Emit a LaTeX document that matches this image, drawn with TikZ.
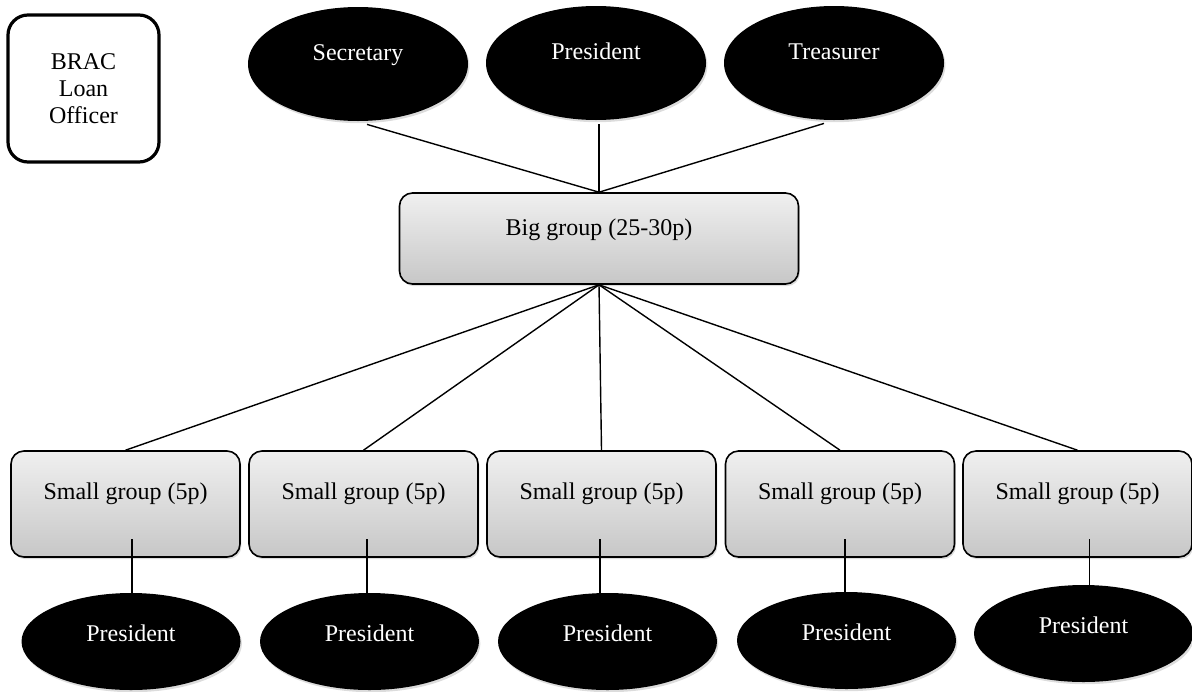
\documentclass[tikz,border=0pt]{standalone}
\usepackage{fontspec}
\setmainfont{Liberation Serif}
\usetikzlibrary{shapes.geometric,shadows,calc}
\begin{document}
\begin{tikzpicture}[x=0.5pt,y=-0.5pt,
  every node/.style={font=\fontsize{12}{13.5}\selectfont},
  softshadow/.style={drop shadow={opacity=0.28,shadow xshift=0.7pt,shadow yshift=-1.1pt}},
  toprole/.style={ellipse,fill=black,text=white,inner sep=0pt,
    minimum width=110pt,minimum height=57pt,text height=8pt,text depth=11.5pt,softshadow},
  botrole/.style={ellipse,fill=black,text=white,inner sep=0pt,
    minimum width=109.5pt,minimum height=48.5pt,text height=8pt,text depth=8.5pt,softshadow},
  grpbox/.style={draw=black,line width=0.8pt,rounded corners=6.5pt,
    top color=black!6,bottom color=black!22,inner sep=0pt,softshadow},
  bigbox/.style={grpbox,minimum width=199.5pt,minimum height=45.5pt,text height=8pt,text depth=11.5pt},
  smallbox/.style={grpbox,minimum width=114.5pt,minimum height=53pt,text height=8pt,text depth=13pt},
  officerbox/.style={draw=black,line width=1.6pt,rounded corners=10pt,fill=white,
    minimum width=75.5pt,minimum height=73.5pt,align=center,inner sep=0pt},
  link/.style={draw=black,line width=0.7pt}
]
\useasboundingbox (0,0) rectangle (1192,691);

% Officer
\node[officerbox] (off) at (83.5,88.5) {BRAC\\Loan\\Officer};

% top roles
\node[toprole] (sec) at (358,64) {Secretary};
\node[toprole] (pres) at (596,63) {President};
\node[toprole] (tre) at (834,63) {Treasurer};

% big group
\node[bigbox] (big) at (599,238.5) {Big group (25-30p)};

% small groups
\node[smallbox] (s1) at (125.5,504) {Small group (5p)};
\node[smallbox] (s2) at (363.5,504) {Small group (5p)};
\node[smallbox] (s3) at (601.5,504) {Small group (5p)};
\node[smallbox] (s4) at (840,504) {Small group (5p)};
\node[smallbox] (s5) at (1077.5,504) {Small group (5p)};

% bottom presidents
\node[botrole] (p1) at (131,641.5) {President};
\node[botrole] (p2) at (369.5,641.5) {President};
\node[botrole] (p3) at (607.5,641.5) {President};
\node[botrole] (p4) at (846.5,640.5) {President};
\node[botrole] (p5) at (1083.5,633.5) {President};

% connectors top
\draw[link] ($(sec.south)+(9,3)$) -- (big.north);
\draw[link] ($(pres.south -| big.north)+(0,4)$) -- (big.north);
\draw[link] ($(tre.south)+(-10,3)$) -- (big.north);

% big to small
\foreach \s in {s1,s2,s3,s4,s5}
  \draw[link] (big.south) -- (\s.north);

% small to presidents
\draw[link] ($(p1.north)+(1,0)$) -- ($(p1.north |- s1.south)+(1,-19)$);
\draw[link] ($(p2.north)+(-2.5,0)$) -- ($(p2.north |- s2.south)+(-2.5,-19)$);
\draw[link] ($(p3.north)+(-7.5,0)$) -- ($(p3.north |- s3.south)+(-7.5,-19)$);
\draw[link] ($(p4.north)+(-1.5,0)$) -- ($(p4.north |- s4.south)+(-1.5,-19)$);
\draw[link] ($(p5.north)+(6,0)$) -- ($(p5.north |- s5.south)+(6,-19)$);
\end{tikzpicture}
\end{document}
